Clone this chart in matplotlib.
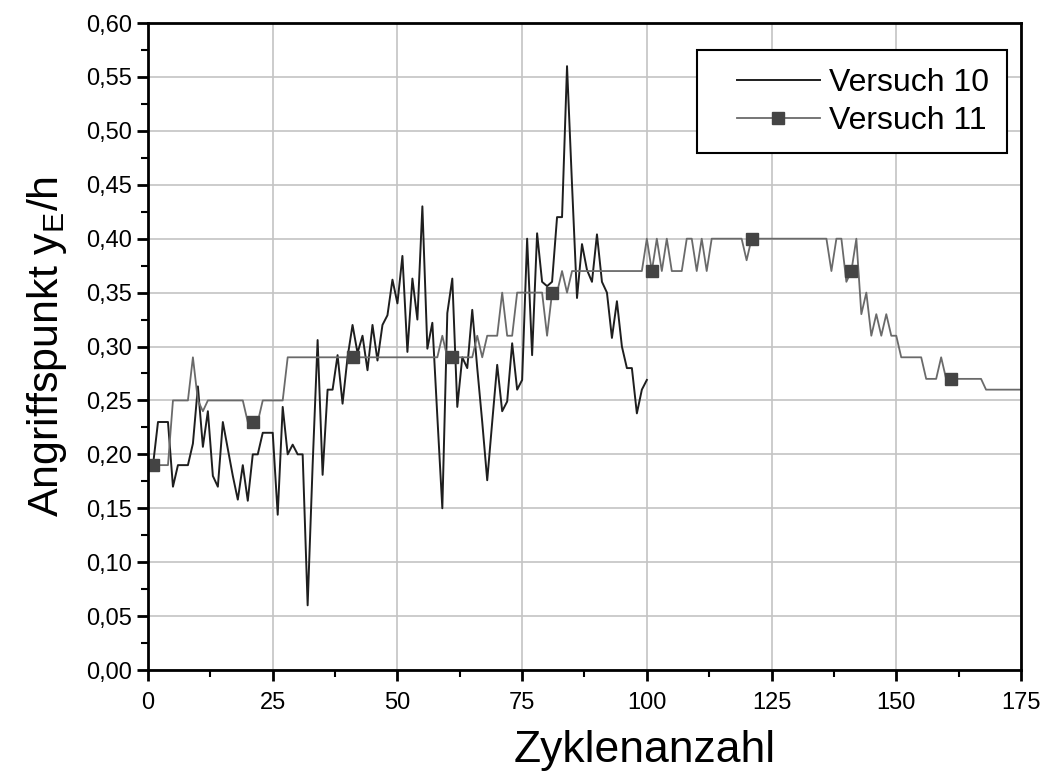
import matplotlib
matplotlib.use("Agg")
import matplotlib.pyplot as plt
from matplotlib.lines import Line2D
from matplotlib.legend_handler import HandlerLine2D
from matplotlib.ticker import FuncFormatter, MultipleLocator

# Versuch 10: cycles 1..100
cycles_10 = list(range(1, 101))
versuch_10 = [
    0.19, 0.23, 0.23, 0.23, 0.17, 0.19, 0.19, 0.19, 0.21, 0.263,
    0.207, 0.24, 0.18, 0.17, 0.23, 0.205, 0.18, 0.158, 0.19, 0.157,
    0.20, 0.20, 0.22, 0.22, 0.22, 0.144, 0.244, 0.20, 0.209, 0.20,
    0.20, 0.06, 0.19, 0.306, 0.181, 0.26, 0.26, 0.292, 0.247, 0.29,
    0.32, 0.294, 0.31, 0.278, 0.32, 0.287, 0.32, 0.329, 0.362, 0.34,
    0.384, 0.295, 0.363, 0.325, 0.43, 0.298, 0.322, 0.235, 0.15, 0.331,
    0.363, 0.244, 0.29, 0.28, 0.334, 0.28, 0.23, 0.176, 0.23, 0.283,
    0.24, 0.249, 0.303, 0.26, 0.269, 0.40, 0.292, 0.405, 0.36, 0.356,
    0.36, 0.42, 0.42, 0.56, 0.45, 0.345, 0.395, 0.371, 0.36, 0.404,
    0.36, 0.35, 0.308, 0.342, 0.30, 0.28, 0.28, 0.238, 0.26, 0.269,
]

# Versuch 11: cycles 1..175
cycles_11 = list(range(1, 176))
versuch_11 = [
    # 1-20
    0.19, 0.19, 0.19, 0.19, 0.25, 0.25, 0.25, 0.25, 0.29, 0.25,
    0.24, 0.25, 0.25, 0.25, 0.25, 0.25, 0.25, 0.25, 0.25, 0.23,
    # 21-40
    0.23, 0.23, 0.25, 0.25, 0.25, 0.25, 0.25, 0.29, 0.29, 0.29,
    0.29, 0.29, 0.29, 0.29, 0.29, 0.29, 0.29, 0.29, 0.29, 0.29,
    # 41-60
    0.29, 0.29, 0.29, 0.29, 0.29, 0.29, 0.29, 0.29, 0.29, 0.29,
    0.29, 0.29, 0.29, 0.29, 0.29, 0.29, 0.29, 0.29, 0.31, 0.29,
    # 61-80
    0.29, 0.29, 0.29, 0.29, 0.29, 0.31, 0.29, 0.31, 0.31, 0.31,
    0.35, 0.31, 0.31, 0.35, 0.35, 0.35, 0.35, 0.35, 0.35, 0.31,
    # 81-100
    0.35, 0.35, 0.37, 0.35, 0.37, 0.37, 0.37, 0.37, 0.37, 0.37,
    0.37, 0.37, 0.37, 0.37, 0.37, 0.37, 0.37, 0.37, 0.37, 0.40,
    # 101-120
    0.37, 0.40, 0.37, 0.40, 0.37, 0.37, 0.37, 0.40, 0.40, 0.37,
    0.40, 0.37, 0.40, 0.40, 0.40, 0.40, 0.40, 0.40, 0.40, 0.38,
    # 121-140
    0.40, 0.40, 0.40, 0.40, 0.40, 0.40, 0.40, 0.40, 0.40, 0.40,
    0.40, 0.40, 0.40, 0.40, 0.40, 0.40, 0.37, 0.40, 0.40, 0.36,
    # 141-160
    0.37, 0.40, 0.33, 0.35, 0.31, 0.33, 0.31, 0.33, 0.31, 0.31,
    0.29, 0.29, 0.29, 0.29, 0.29, 0.27, 0.27, 0.27, 0.29, 0.27,
    # 161-175
    0.27, 0.27, 0.27, 0.27, 0.27, 0.27, 0.27, 0.26, 0.26, 0.26,
    0.26, 0.26, 0.26, 0.26, 0.26,
]

x_ticks = [0, 25, 50, 75, 100, 125, 150, 175]

plt.rcParams["font.family"] = ["Liberation Sans", "DejaVu Sans"]
plt.rcParams["mathtext.fontset"] = "custom"
plt.rcParams["mathtext.rm"] = "Liberation Sans"
plt.rcParams["mathtext.it"] = "Liberation Sans"

fig = plt.figure(figsize=(10.52, 7.78), dpi=100)
ax = fig.add_axes([0.1407, 0.1388, 0.8298, 0.8316])

ax.plot(cycles_10, versuch_10, color="#1e1e1e", linewidth=1.4, label="Versuch 10")
ax.plot(cycles_11, versuch_11, color="#6a6a6a", linewidth=1.3, marker="s",
        markersize=8, markevery=20, markerfacecolor="#444444",
        markeredgecolor="#444444", label="Versuch 11")

ax.set_xlim(0, 175)
ax.set_ylim(0, 0.60)
ax.set_xticks(x_ticks)
ax.xaxis.set_minor_locator(MultipleLocator(12.5))
ax.yaxis.set_major_locator(MultipleLocator(0.05))
ax.yaxis.set_minor_locator(MultipleLocator(0.025))
ax.yaxis.set_major_formatter(FuncFormatter(lambda v, _: f"{v:.2f}".replace(".", ",")))

ax.grid(True, which="major", color="#c4c4c4", linewidth=1.2)
ax.set_axisbelow(True)
for sp in ax.spines.values():
    sp.set_linewidth(2.0)
ax.tick_params(which="major", direction="out", length=8, width=2, labelsize=17)
ax.tick_params(axis="x", which="major", pad=8)
ax.tick_params(which="minor", direction="out", length=5, width=1.5)

ax.set_xlabel("Zyklenanzahl", fontsize=32)
ax.xaxis.set_label_coords(0.569, -0.093)
ax.set_ylabel("Angriffspunkt y$_\\mathregular{E}$/h", fontsize=31)
ax.yaxis.set_label_coords(-0.09, 0.5)

# extra left padding in front of the legend handles
leg = ax.legend(loc="upper right", bbox_to_anchor=(0.984, 0.958), borderaxespad=0,
                fontsize=23, fancybox=False, framealpha=1, edgecolor="black",
                handlelength=3.3, handletextpad=0.3, borderpad=0.55,
                labelspacing=0.25, handler_map={Line2D: HandlerLine2D(xpad=0.7)})
leg.get_frame().set_linewidth(1.5)

fig.savefig("out.png", dpi=100)
